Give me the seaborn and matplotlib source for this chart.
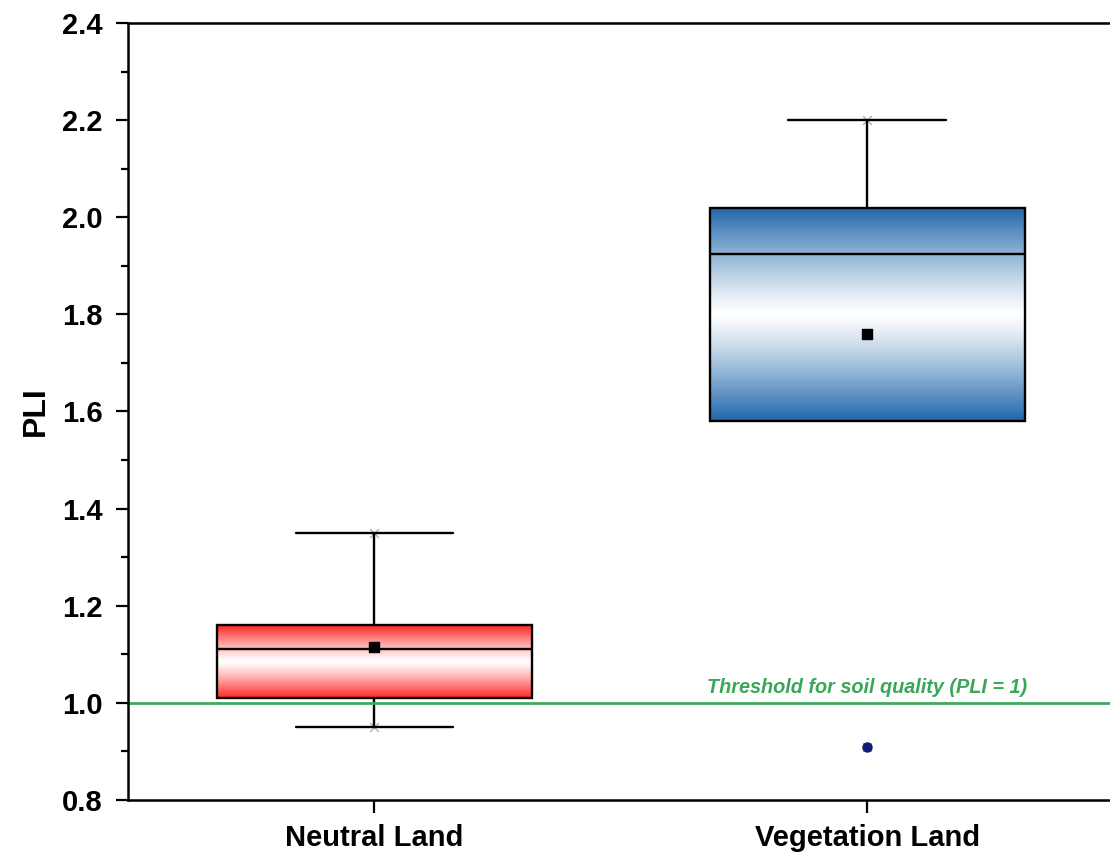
import pandas as pd

import matplotlib.pyplot as plt

import numpy as np

import seaborn as sns
from matplotlib.colors import to_rgb
from matplotlib.ticker import MultipleLocator


# PLI values per land use
categories = ["Neutral Land", "Vegetation Land"]
neutral_pli = [0.95, 1.01, 1.11, 1.16, 1.35]
vegetation_pli = [0.91, 1.58, 1.925, 2.02, 2.2]
mean_pli = [1.115, 1.76]
box_colors = ["#ff2626", "#1f66ab"]
threshold = 1.0

df = pd.DataFrame({
    "Land": [categories[0]] * len(neutral_pli) + [categories[1]] * len(vegetation_pli),
    "PLI": neutral_pli + vegetation_pli,
})

sns.set_style("ticks")
plt.rcParams["font.family"] = ["Liberation Sans", "DejaVu Sans"]
plt.rcParams["font.weight"] = "bold"
for key in ["text.color", "axes.labelcolor", "axes.edgecolor", "xtick.color", "ytick.color"]:
    plt.rcParams[key] = "black"

fig = plt.figure(figsize=(11.1, 8.58), dpi=100)
ax = fig.add_axes([0.1153, 0.0676, 0.888, 0.9056])

sns.boxplot(
    data=df, x="Land", y="PLI", order=categories, ax=ax,
    width=0.64, linewidth=1.7, linecolor="black", fill=True, color="white",
    flierprops=dict(marker="o", markersize=6.5, markerfacecolor="#101a7a",
                    markeredgecolor="#101a7a"),
)

# gradient fill: colour at the box edges, white in the middle
t = np.linspace(0, 1, 256)
d = np.abs(t - 0.5) * 2
d = d ** 1.2
box_bottoms = []
for patch, col in zip(ax.patches[:len(categories)], box_colors):
    c = np.array(to_rgb(col))
    rgb = (1 - d)[:, None] * np.ones(3) + d[:, None] * c
    arr = rgb[:, None, :]
    ext = patch.get_path().get_extents()
    box_bottoms.append(ext.y0)
    im = ax.imshow(arr, extent=[ext.x0, ext.x1, ext.y0, ext.y1], aspect="auto",
                   origin="lower", interpolation="bilinear", zorder=1.9)
    im.set_clip_path(patch)
    patch.set_facecolor("none")

# hide a cap that sits on the box edge (zero-length whisker)
for line in ax.lines:
    y = np.asarray(line.get_ydata(), dtype=float)
    if len(y) == 2 and y[0] == y[1] and any(np.isclose(y[0], b) for b in box_bottoms):
        line.set_visible(False)

# min / max markers and means
for i, vals in enumerate([neutral_pli, vegetation_pli]):
    ax.scatter([i, i], [min(vals), max(vals)], marker="x", s=40, color="#b0b0b0",
               linewidths=1, zorder=1.95)
ax.scatter(range(len(categories)), mean_pli, marker="s", s=55, color="black", zorder=3)

# threshold line
ax.axhline(threshold, color="#3daa5c", linewidth=2, zorder=2.5)
ax.text(1, threshold + 0.012, "Threshold for soil quality (PLI = 1)", color="#3aa65a",
        fontsize=14.3, fontweight="bold", fontstyle="italic", ha="center", va="bottom")

ax.set_xlim(-0.5, 1.5)
ax.set_ylim(0.8, 2.4)
ax.yaxis.set_major_locator(MultipleLocator(0.2))
ax.yaxis.set_minor_locator(MultipleLocator(0.1))
ax.yaxis.set_major_formatter(plt.FormatStrFormatter("%.1f"))

ax.set_xlabel("")
ax.set_ylabel("PLI", fontsize=23, fontweight="bold", labelpad=8)

ax.tick_params(axis="both", which="major", direction="out", length=9, width=1.6,
               labelsize=21)
ax.tick_params(axis="y", which="major", pad=9)
ax.tick_params(axis="x", which="major", pad=8)
ax.tick_params(axis="y", which="minor", direction="out", length=5, width=1.6)
for lab in ax.get_xticklabels() + ax.get_yticklabels():
    lab.set_fontweight("bold")

for side in ["left", "bottom", "top"]:
    ax.spines[side].set_visible(True)
    ax.spines[side].set_linewidth(1.8)
ax.spines["right"].set_visible(False)

fig.savefig("out.png", dpi=100)
